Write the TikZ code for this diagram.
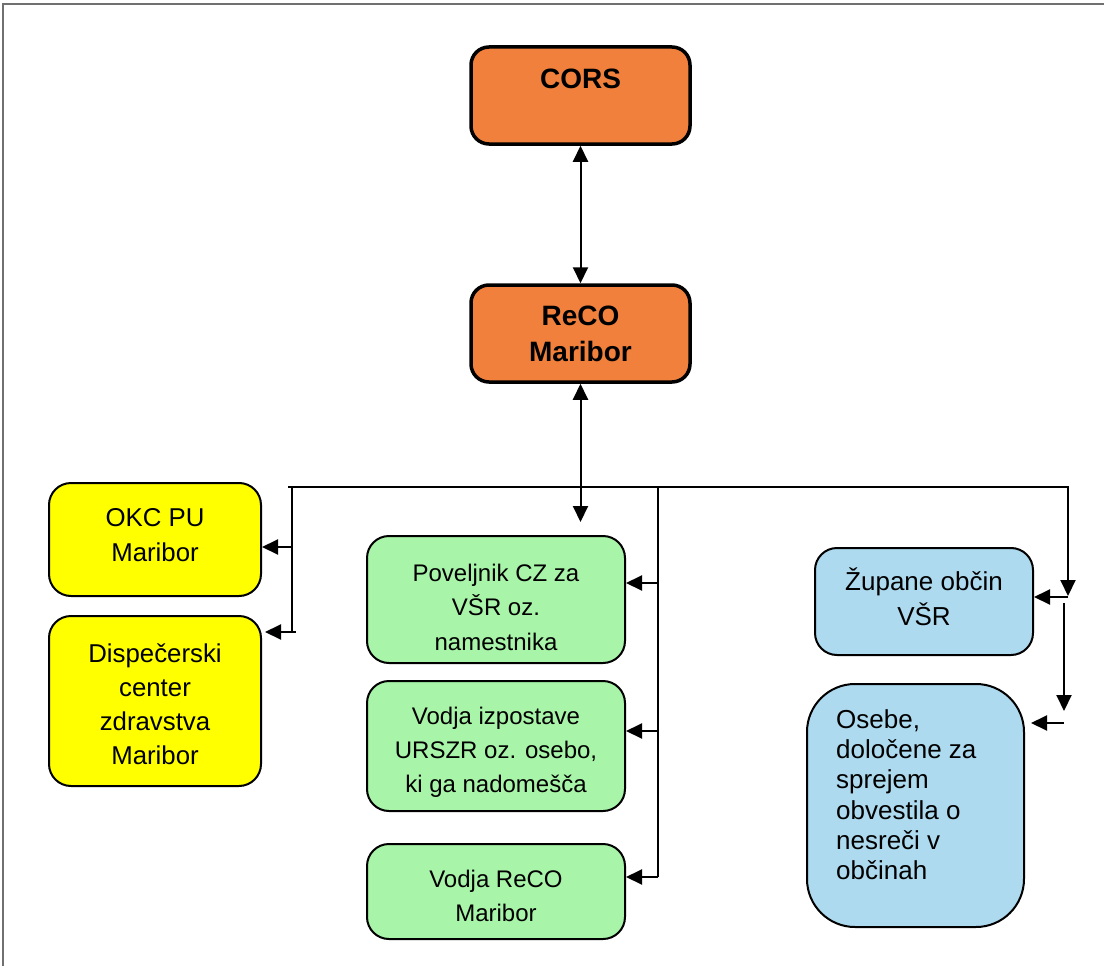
\documentclass[tikz,border=0pt]{standalone}
\usepackage{fontspec}
\setmainfont{Liberation Sans}
\usetikzlibrary{arrows.meta}
\definecolor{orng}{HTML}{F0803C}
\definecolor{ylw}{HTML}{FFFF00}
\definecolor{grn}{HTML}{A8F4A8}
\definecolor{blu}{HTML}{ADDAEE}
\definecolor{frm}{HTML}{707070}
\tikzset{
  box/.style={draw=black, line width=2pt, rounded corners=22pt, inner sep=0pt},
  obox/.style={box, fill=orng, line width=3.5pt, rounded corners=18pt},
  ybox/.style={box, fill=ylw},
  gbox/.style={box, fill=grn},
  bbox/.style={box, fill=blu},
  txt/.style={inner sep=0pt, align=center},
  conn/.style={line width=2pt},
  arr/.style={line width=2pt, -{Triangle[width=15pt,length=16pt]}},
  darr/.style={line width=2pt, {Triangle[width=15pt,length=16pt]}-{Triangle[width=15pt,length=16pt]}},
}
\begin{document}
\begin{tikzpicture}[x=1pt,y=-1pt]
\useasboundingbox (0,0) rectangle (1104,966);
\draw[frm, line width=1.5pt] (3,966) -- (3,4) -- (1104,4);

% boxes
\node[obox, minimum width=219pt, minimum height=97pt] (cors) at (580.5,95.5) {};
\node[obox, minimum width=219pt, minimum height=97pt] (reco) at (580.5,333.5) {};
\node[ybox, minimum width=212pt, minimum height=113pt] (okc) at (155,539.5) {};
\node[ybox, minimum width=212pt, minimum height=170pt] (disp) at (155,701) {};
\node[gbox, minimum width=258pt, minimum height=127pt] (g1) at (496,599.5) {};
\node[gbox, minimum width=258pt, minimum height=130pt] (g2) at (496,746) {};
\node[gbox, minimum width=258pt, minimum height=95pt] (g3) at (496,891.5) {};
\node[bbox, minimum width=218pt, minimum height=107pt] (zup) at (924,601.5) {};
\node[bbox, minimum width=217pt, minimum height=243pt, rounded corners=48pt] (ose) at (915.5,805.5) {};

% texts
\node[txt, anchor=base, font=\fontsize{28}{35}\selectfont\bfseries] (corst) at (580.5,88.3) {CORS};
\node[txt, font=\fontsize{28}{35.5}\selectfont\bfseries] (recot) at (580.5,334) {ReCO\\Maribor};
\node[txt, font=\fontsize{25.8}{35}\selectfont] (okct) at (155,535.5) {OKC PU\\Maribor};
\node[txt, font=\fontsize{25.8}{34}\selectfont] (dispt) at (155,704.5) {Dispečerski\\center\\zdravstva\\Maribor};
\node[txt, font=\fontsize{24}{34.5}\selectfont] (g1t) at (496,607) {Poveljnik CZ za\\VŠR oz.\\namestnika};
\node[txt, font=\fontsize{24}{34}\selectfont] (g2t) at (496,752.7) {Vodja izpostave\\URSZR oz. osebo,\\ki ga nadomešča};
\node[txt, font=\fontsize{24}{34}\selectfont] (g3t) at (496,896) {Vodja ReCO\\Maribor};
\node[txt, font=\fontsize{26}{35.3}\selectfont] (zupt) at (924,597) {Župane občin\\VŠR};
\node[txt, align=left, anchor=west, font=\fontsize{26}{30.3}\selectfont] (oset) at (836,794.7) {Osebe,\\določene za\\sprejem\\obvestila o\\nesreči v\\občinah};

% coordinates
\coordinate (rd) at (580.5,522);
\coordinate (bL) at (288,487);
\coordinate (bR) at (1068,487);
\coordinate (bRd) at (1068,596);
\coordinate (lv) at (292,487);
\coordinate (l1) at (292,547);
\coordinate (l2) at (292,632);
\coordinate (l2e) at (296,632);
\coordinate (l2t) at (265,632);
\coordinate (mv) at (658,487);
\coordinate (m1) at (658,583);
\coordinate (m2) at (658,731);
\coordinate (m3) at (658,877);
\coordinate (r1) at (1068,597);
\coordinate (r2) at (1064,603);
\coordinate (r2b) at (1064,711);
\coordinate (r3) at (1064,723);
\coordinate (r3t) at (1031,723);

% connectors
\draw[darr] (cors.south) -- (reco.north);
\draw[darr] (reco.south) -- (rd);
\draw[arr] (bL) -- (bR) -- (bRd);
\draw[conn] (lv) -- (l2) -- (l2e);
\draw[arr] (l1) -- (okc.east |- l1);
\draw[arr] (l2e) -- (l2t);
\draw[conn] (mv) -- (m3);
\draw[arr] (m1) -- (g1.east |- m1);
\draw[arr] (m2) -- (g2.east |- m2);
\draw[arr] (m3) -- (g3.east |- m3);
\draw[arr] (r1) -- (zup.east |- r1);
\draw[arr] (r2) -- (r2b);
\draw[arr] (r3) -- (r3t);
\end{tikzpicture}
\end{document}
